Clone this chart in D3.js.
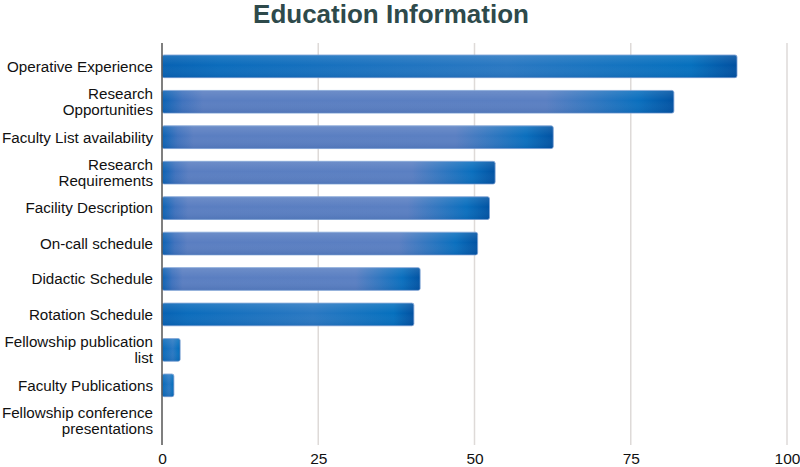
<!DOCTYPE html>
<html>
<head>
<meta charset="utf-8">
<script src="https://cdn.jsdelivr.net/npm/d3@7"></script>
<style>
	body { margin: 0; background: #fff; }
	text { font-family: "Liberation Sans", Arial, sans-serif; }
</style>
</head>
<body>
<div id="chart-area"></div>
<script>
/* data */
const categories = [
	'Operative Experience',
	'Research\nOpportunities',
	'Faculty List availability',
	'Research\nRequirements',
	'Facility Description',
	'On-call schedule',
	'Didactic Schedule',
	'Rotation Schedule',
	'Fellowship publication\nlist',
	'Faculty Publications',
	'Fellowship conference\npresentations',
]
const values = [92, 81.9, 62.6, 53.3, 52.4, 50.5, 41.3, 40.3, 2.9, 1.9, 0]
const tickValues = [0, 25, 50, 75, 100]

// look of each bar (glossy style in the original differs per bar)
const barTone = ['blue', 'slate', 'slate', 'slate', 'slate', 'slate', 'slate', 'blue', 'blue', 'blue', 'blue']

/* canvas */
const WIDTH = 800
const HEIGHT = 467
const margin = { top: 43, bottom: 22, left: 162, right: 13 }

const $svg = d3.select('#chart-area')
	.append('svg')
	.attr('width', WIDTH)
	.attr('height', HEIGHT)

const defs = $svg.append('defs')

const slate = defs.append('linearGradient').attr('id', 'grad-slate')
slate.append('stop').attr('offset', '0%').attr('stop-color', '#0a62b4')
slate.append('stop').attr('offset', '4%').attr('stop-color', '#3f72bd')
slate.append('stop').attr('offset', '8%').attr('stop-color', '#5a7ec1')
slate.append('stop').attr('offset', '75%').attr('stop-color', '#5a7fc2')
slate.append('stop').attr('offset', '93%').attr('stop-color', '#0a6fbe')
slate.append('stop').attr('offset', '100%').attr('stop-color', '#0152a2')

const blue = defs.append('linearGradient').attr('id', 'grad-blue')
blue.append('stop').attr('offset', '0%').attr('stop-color', '#0762b3')
blue.append('stop').attr('offset', '10%').attr('stop-color', '#0b6cbc')
blue.append('stop').attr('offset', '60%').attr('stop-color', '#2a78c2')
blue.append('stop').attr('offset', '92%').attr('stop-color', '#0570be')
blue.append('stop').attr('offset', '100%').attr('stop-color', '#0150a0')

// soft vertical shade on top of each bar
const shade = defs.append('linearGradient').attr('id', 'grad-shade')
	.attr('x1', 0).attr('y1', 0).attr('x2', 0).attr('y2', 1)
shade.append('stop').attr('offset', '0%').attr('stop-color', '#fff').attr('stop-opacity', 0.12)
shade.append('stop').attr('offset', '45%').attr('stop-color', '#fff').attr('stop-opacity', 0)
shade.append('stop').attr('offset', '100%').attr('stop-color', '#002b70').attr('stop-opacity', 0.12)

/* scales */
const xScale = d3.scaleLinear()
	.domain([0, 100])
	.range([margin.left, WIDTH - margin.right])

const yScale = d3.scaleBand()
	.domain(categories)
	.range([48.6, 438.5])
	.paddingInner(0.36)
	.paddingOuter(0.18)

/* title */
$svg.append('text')
	.attr('x', 391)
	.attr('y', 23)
	.attr('text-anchor', 'middle')
	.attr('font-size', 26)
	.attr('font-weight', 'bold')
	.attr('fill', '#2e4a4b')
	.text('Education Information')

/* grid */
const gridBottom = 445
$svg.append('g')
	.selectAll('line')
	.data(tickValues.filter(d => d !== 0))
	.join('line')
	.attr('x1', d => xScale(d))
	.attr('x2', d => xScale(d))
	.attr('y1', margin.top)
	.attr('y2', gridBottom)
	.attr('stroke', '#dedad8')
	.attr('stroke-width', 1.5)

/* x axis labels */
const xAxisCall = d3.axisBottom(xScale)
	.tickValues(tickValues)
	.tickSize(0)
	.tickPadding(0)

const $xAxis = $svg.append('g')
	.attr('transform', `translate(0, ${gridBottom + 8})`)
	.call(xAxisCall)
$xAxis.select('.domain').remove()
$xAxis.selectAll('text')
	.attr('font-family', '"Liberation Sans", Arial, sans-serif')
	.attr('font-size', 15.5)
	.attr('fill', '#111')

/* bars */
const rows = categories.map((c, i) => ({ category: c, value: values[i], tone: barTone[i] }))

const $bars = $svg.append('g')
	.selectAll('g')
	.data(rows.filter(d => d.value > 0))
	.join('g')

$bars.append('rect')
	.attr('x', xScale(0))
	.attr('y', d => yScale(d.category))
	.attr('width', d => xScale(d.value) - xScale(0))
	.attr('height', yScale.bandwidth())
	.attr('rx', 2)
	.attr('fill', d => `url(#grad-${d.tone})`)
	.attr('stroke', '#7ea2d6')
	.attr('stroke-width', 0.8)

$bars.append('rect')
	.attr('x', xScale(0))
	.attr('y', d => yScale(d.category))
	.attr('width', d => xScale(d.value) - xScale(0))
	.attr('height', yScale.bandwidth())
	.attr('rx', 2)
	.attr('fill', 'url(#grad-shade)')

/* y axis line */
$svg.append('line')
	.attr('x1', xScale(0))
	.attr('x2', xScale(0))
	.attr('y1', margin.top)
	.attr('y2', gridBottom)
	.attr('stroke', '#555')
	.attr('stroke-width', 1.5)

/* category labels */
const $labels = $svg.append('g')
	.selectAll('text')
	.data(categories)
	.join('text')
	.attr('text-anchor', 'end')
	.attr('font-size', 15.2)
	.attr('fill', '#111')
	.attr('transform', d => `translate(153, ${yScale(d) + yScale.bandwidth() / 2})`)

$labels.each(function (d) {
	const lines = d.split('\n')
	const lineHeight = 16
	const start = -(lines.length - 1) * lineHeight / 2
	d3.select(this).selectAll('tspan')
		.data(lines)
		.join('tspan')
		.attr('x', 0)
		.attr('y', (l, i) => start + i * lineHeight)
		.attr('dy', '0.35em')
		.text(l => l)
})
</script>
</body>
</html>
